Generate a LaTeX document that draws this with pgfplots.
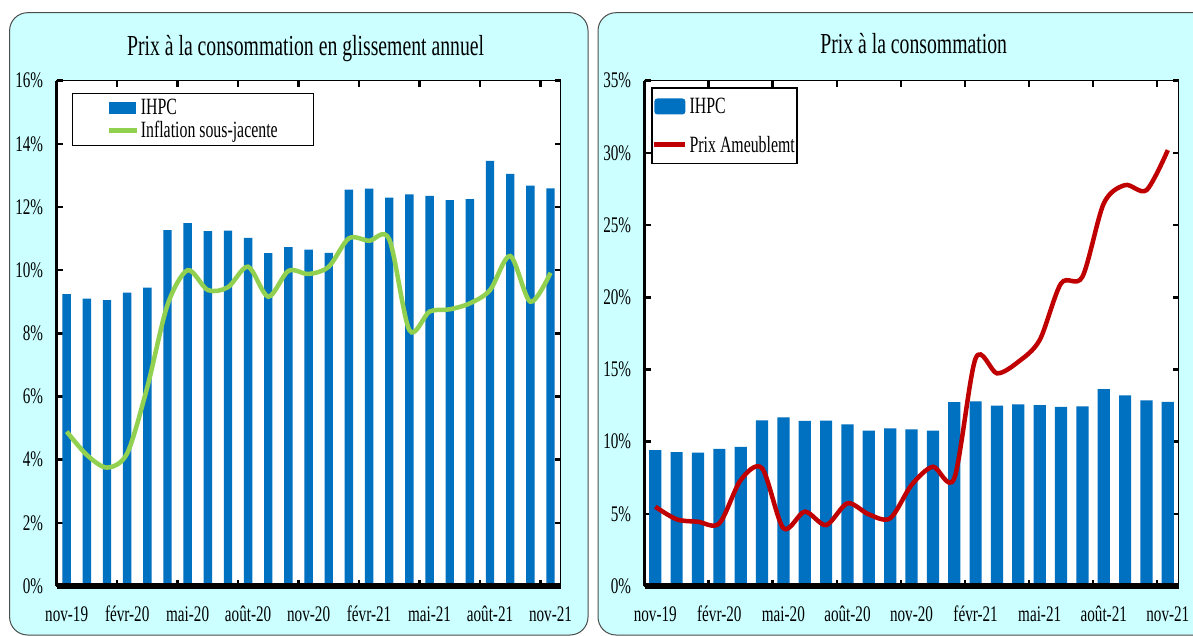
\documentclass[border=0pt]{standalone}
\usepackage{pgfplots}
\pgfplotsset{compat=1.18}
\usepackage{fontspec}
\setmainfont[FakeStretch=0.68]{Liberation Serif}
\definecolor{panel}{HTML}{CCFFFF}
\definecolor{barblue}{HTML}{0070C0}
\definecolor{lgreen}{HTML}{92D050}
\definecolor{dred}{HTML}{C00000}
\newcommand\tickfont{\fontsize{22.3bp}{26bp}\selectfont}
\newcommand\legfont{\fontsize{23.3bp}{27bp}\selectfont}
\newcommand\titfont{\fontsize{29bp}{33bp}\selectfont}
\pgfplotsset{
 panelaxis/.style={
  scale only axis, anchor=south west,
  xmin=-0.5, xmax=24.5, ymin=0,
  axis background/.style={fill=white},
  axis line style={black, line width=0.8bp},
  xtick={0,3,...,24},
  xticklabels={nov-19,févr-20,mai-20,août-20,nov-20,févr-21,mai-21,août-21,nov-21},
  major x tick style={draw=none},
  minor xtick={2.5,5.5,...,23.5},
  minor x tick style={black, line width=2.5bp},
  minor tick length=6bp,
  major tick length=6bp,
  tick align=inside,
  y tick style={black, line width=2.5bp},
  ticklabel style={font=\tickfont},
  xticklabel style={anchor=base, yshift=-36bp},
  yticklabel style={xshift=-10bp},
  title style={font=\titfont, anchor=base},
  legend cell align=left,
  legend style={font=\legfont, draw=black, line width=1.5bp, fill=white, anchor=north west},
  after end axis/.code={
    \draw[black, line width=3bp] (rel axis cs:0,0) -- (rel axis cs:0,1);
    \draw[black, line width=5bp] (rel axis cs:0,0) -- (rel axis cs:1,0);
  },
 }
}
\begin{document}
\begin{tikzpicture}
\useasboundingbox (0,0) rectangle (1193bp,636bp);
\fill[white] (0,0) rectangle (1193bp,636bp);
\filldraw[fill=panel, draw=gray!60!black, line width=1bp, rounded corners=18bp] (9.6bp,1bp) rectangle (588bp,623.3bp);
\filldraw[fill=panel, draw=gray!60!black, line width=1bp, rounded corners=18bp] (598bp,1bp) rectangle (1225bp,623.3bp);

\begin{axis}[panelaxis,
  at={(56.6bp,50bp)}, width=504bp, height=505.3bp, ymax=16,
  ytick={0,2,...,16},
  yticklabels={0\%,2\%,4\%,6\%,8\%,10\%,12\%,14\%,16\%},
  title={Prix à la consommation en glissement annuel},
  title style={at={(0.494,1.039)}},
  legend style={at={(0.0298,0.976)}, inner xsep=34bp, inner ysep=4bp, row sep=1bp},
]
\addplot[ybar, bar width=8.4bp, fill=barblue, draw=none,
  legend image code/.code={\fill[barblue] (0bp,-6bp) rectangle (27bp,6bp);}]
 coordinates {(0,9.24)(1,9.10)(2,9.05)(3,9.29)(4,9.45)(5,11.27)(6,11.49)(7,11.24)(8,11.25)(9,11.02)(10,10.54)(11,10.73)(12,10.65)(13,10.55)(14,12.55)(15,12.58)(16,12.30)(17,12.40)(18,12.35)(19,12.22)(20,12.25)(21,13.46)(22,13.05)(23,12.68)(24,12.59)};
\addlegendentry{IHPC}
\addplot[lgreen, line width=4.5bp, smooth, no markers,
  legend image code/.code={\draw[lgreen, line width=4.5bp] (0bp,0bp) -- (28bp,0bp);}]
 coordinates {(0,4.89)(1,4.15)(2,3.75)(3,4.2)(4,6.3)(5,8.9)(6,10.0)(7,9.37)(8,9.46)(9,10.11)(10,9.16)(11,9.98)(12,9.88)(13,10.11)(14,11.01)(15,10.93)(16,10.98)(17,8.1)(18,8.69)(19,8.76)(20,8.95)(21,9.37)(22,10.45)(23,9.0)(24,9.92)};
\addlegendentry{Inflation sous-jacente}
\end{axis}

\begin{axis}[panelaxis,
  at={(644.6bp,50bp)}, width=533.9bp, height=505.3bp, ymax=35,
  ytick={0,5,...,35},
  yticklabels={0\%,5\%,10\%,15\%,20\%,25\%,30\%,35\%},
  title={Prix à la consommation},
  title style={at={(0.504,1.042)}},
  legend style={at={(0.0127,0.987)}, inner xsep=0bp, inner ysep=8bp, row sep=17bp},
]
\addplot[ybar, bar width=12.2bp, fill=barblue, draw=none,
  legend image code/.code={\fill[barblue, rounded corners=3bp] (0bp,-8bp) rectangle (31bp,8bp);}]
 coordinates {(0,9.42)(1,9.28)(2,9.23)(3,9.49)(4,9.63)(5,11.47)(6,11.68)(7,11.43)(8,11.45)(9,11.2)(10,10.76)(11,10.92)(12,10.85)(13,10.76)(14,12.74)(15,12.79)(16,12.49)(17,12.58)(18,12.53)(19,12.40)(20,12.44)(21,13.64)(22,13.2)(23,12.86)(24,12.76)};
\addlegendentry{IHPC}
\addplot[dred, line width=4.5bp, smooth, no markers,
  legend image code/.code={\draw[dred, line width=4.5bp] (0bp,0bp) -- (31bp,0bp);}]
 coordinates {(0,5.49)(1,4.62)(2,4.45)(3,4.34)(4,7.34)(5,8.15)(6,4.0)(7,5.15)(8,4.22)(9,5.73)(10,4.96)(11,4.69)(12,7.0)(13,8.26)(14,7.46)(15,15.77)(16,14.73)(17,15.53)(18,17.04)(19,20.96)(20,21.42)(21,26.5)(22,27.77)(23,27.42)(24,30.19)};
\addlegendentry{Prix Ameublemt}
\end{axis}
\end{tikzpicture}
\end{document}
